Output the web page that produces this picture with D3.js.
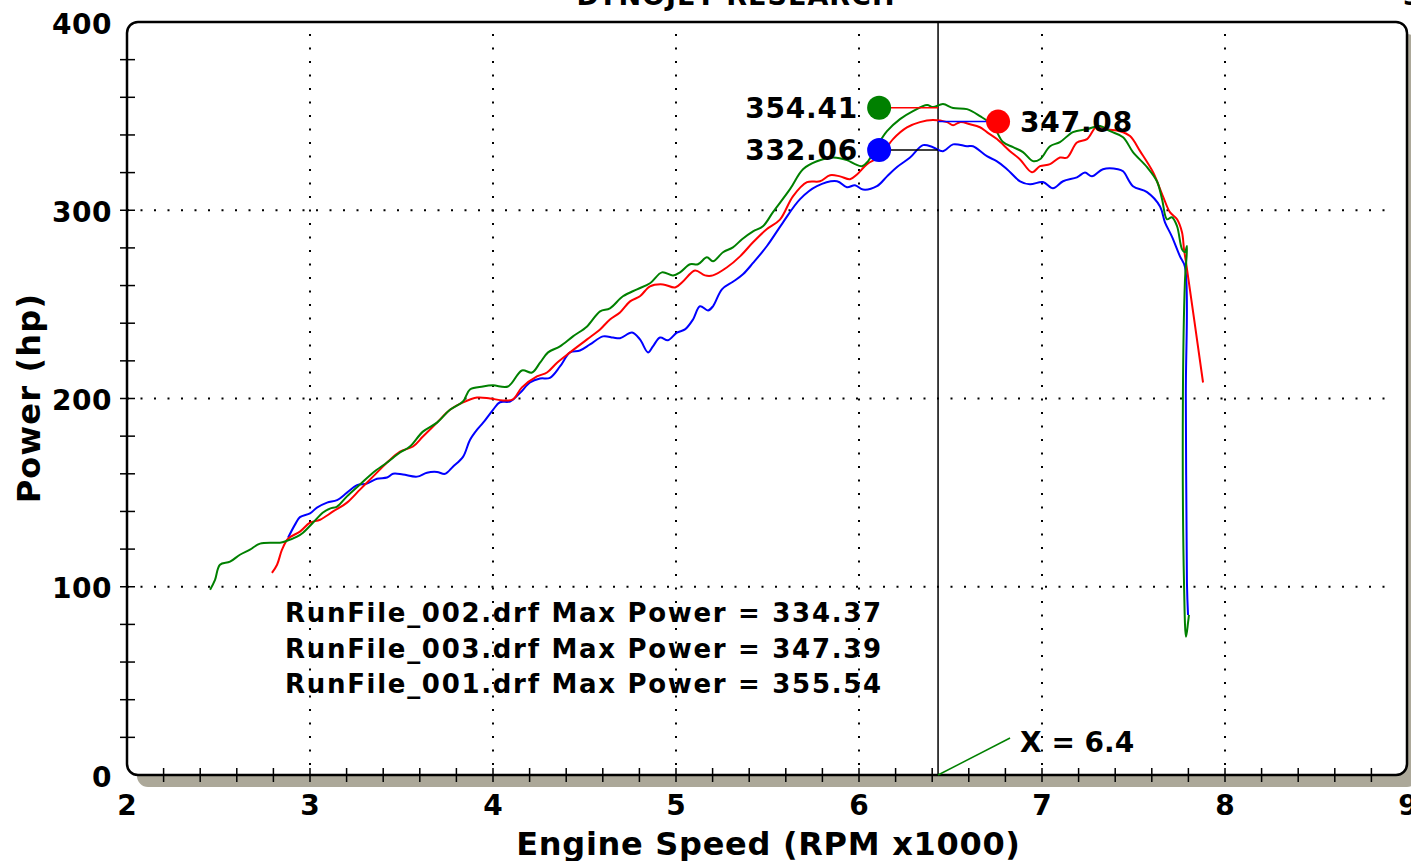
<!DOCTYPE html>
<meta charset="utf-8">
<style>
body { margin: 0; background: #fff; }
svg { display: block; }
text { font-family: "DejaVu Sans", Verdana, sans-serif; font-weight: bold; fill: #000; }
.grid line { stroke: #000; stroke-width: 2; stroke-dasharray: 2,11.5; }
.tick-mark { stroke: #000; stroke-width: 1.5; }
.run { fill: none; stroke-width: 2; }
</style>
<body>
<div id="dyno"></div>
<script src="https://d3js.org/d3.v7.min.js"></script>
<script>
// runs: rpm (x1000) and power (hp)
var run001Rpm = [2.454,2.481,2.508,2.563,2.617,2.672,2.727,2.836,2.863,2.929,2.962,3.016,3.071,3.109,3.148,3.202,3.273,3.344,3.421,3.492,3.546,3.617,3.694,3.765,3.836,3.874,3.945,4.000,4.082,4.158,4.213,4.257,4.301,4.366,4.437,4.514,4.585,4.639,4.710,4.787,4.858,4.923,4.984,5.022,5.077,5.120,5.169,5.202,5.257,5.311,5.361,5.421,5.475,5.530,5.623,5.694,5.770,5.858,5.934,5.978,6.016,6.049,6.098,6.153,6.224,6.295,6.372,6.404,6.459,6.514,6.590,6.661,6.732,6.787,6.842,6.896,6.951,6.989,7.044,7.098,7.169,7.246,7.317,7.372,7.443,7.497,7.574,7.628,7.656,7.683,7.710,7.738,7.765,7.781,7.792,7.781,7.770,7.776,7.787,7.798,7.803];
var run001Hp = [98.4,103.7,111.7,113.3,117,119.7,122.9,123.4,124,126.6,128.7,134,139.4,141.5,142.6,148,154.3,160.6,166,171.3,174.5,182.4,187.2,194,198.4,204.8,206.4,207,206.4,214.9,213.8,219,224.5,227.7,233,238.3,246.3,247.9,254.3,258,261.2,267,265.4,267,271.3,271.3,275,272.9,277.7,280.3,284.6,288.8,291.5,299,311.2,321.8,326,328,326.6,324.5,323.4,326,334,342,348.4,352.7,355.9,354.8,356.4,354.3,353.7,350,345,336.2,333.5,330.9,326.1,327.1,334,336.2,341.5,343.1,344.7,342,338.8,330.9,322.9,315.4,305.9,295.2,296.3,291.5,279.3,277.7,281,262,200.5,102.1,73.4,80.9,85.1];

var run002Rpm = [2.880,2.918,2.945,3.000,3.038,3.093,3.148,3.202,3.257,3.311,3.366,3.421,3.454,3.508,3.585,3.639,3.694,3.738,3.781,3.836,3.874,3.913,3.945,4.000,4.038,4.093,4.148,4.202,4.257,4.311,4.366,4.421,4.475,4.530,4.601,4.656,4.694,4.760,4.803,4.847,4.874,4.913,4.956,5.005,5.049,5.093,5.131,5.175,5.202,5.251,5.311,5.366,5.421,5.497,5.585,5.678,5.770,5.880,5.934,5.978,6.022,6.098,6.153,6.208,6.279,6.350,6.404,6.459,6.514,6.590,6.623,6.699,6.754,6.809,6.880,6.934,7.005,7.060,7.115,7.191,7.235,7.273,7.333,7.415,7.443,7.497,7.574,7.645,7.672,7.710,7.754,7.781,7.786,7.792,7.798];
var run002Hp = [126,133,137,139,142,144.7,146,150,154,154.8,157.4,158,160,159.6,158.5,160.6,161,160,163.8,169,178,183.5,187,194,198,198.4,203,208.5,210.6,211,217,224.5,225.5,228.7,233,232.4,232,235,231.4,224.5,227.7,232.4,231,235,236.7,242,249,246.8,249,258,262,266,272,281,293.6,305.9,312.8,315.4,312.2,313.3,311,312.8,318,323,328,334.6,333.5,331.4,335,334,334,328.7,326,321.8,315.4,313.8,315,311.7,315.4,317.5,320,318,321.8,321.8,320.7,312.8,309.6,302,293.6,286,275.5,270,200,102,85];

var run003Rpm = [2.792,2.820,2.847,2.880,2.945,3.000,3.055,3.126,3.202,3.273,3.344,3.421,3.492,3.563,3.617,3.694,3.765,3.836,3.913,3.984,4.055,4.109,4.158,4.240,4.295,4.350,4.421,4.514,4.585,4.639,4.694,4.749,4.803,4.858,4.929,4.995,5.038,5.104,5.158,5.202,5.279,5.350,5.421,5.497,5.568,5.639,5.716,5.787,5.842,5.896,5.951,5.989,6.044,6.115,6.186,6.262,6.333,6.404,6.481,6.514,6.552,6.607,6.661,6.699,6.754,6.825,6.880,6.945,6.989,7.044,7.098,7.137,7.191,7.246,7.301,7.355,7.426,7.481,7.536,7.607,7.661,7.699,7.738,7.765,7.776,7.787,7.880];
var run003Hp = [107.4,111.7,119.7,125.5,129.3,134,135.6,140,144.7,151.6,158.5,166,171.8,174.5,179.8,187.2,194,197.9,200.5,200,199,199.5,205.9,211.7,213.8,219,224.5,231.4,236.7,242,245.7,251.6,254.3,259.6,260.6,259,262.2,268,265.4,265.4,269.7,275.5,283,290,295,307.4,314.9,315.4,318.6,318,316.5,319,324.5,328.7,337.8,344,346.8,347.9,346.8,345.2,346.8,345.7,344.1,341.5,337.8,331.4,327,320.2,323.4,324.5,328,328,336,337.8,344.7,343,342,339.4,331.4,320.2,307.4,299,295.2,288.3,279.3,272.3,208.5];

var xTickLabels = ["2","3","4","5","6","7","8","9"];
var yTickLabels = ["0","100","200","300","400"];
var summaryLines = ["RunFile_002.drf Max Power = 334.37", "RunFile_003.drf Max Power = 347.39", "RunFile_001.drf Max Power = 355.54"];
var cursorRpm = 6.432;
var cursorValues = [354.41, 347.08, 332.06];

var width = 1411, height = 861,
    plot = {left: 127, right: 1408, top: 22, bottom: 775};

var x = d3.scaleLinear().domain([2, 9]).range([plot.left, plot.right]),
    y = d3.scaleLinear().domain([0, 400]).range([plot.bottom, plot.top]);

var svg = d3.select("#dyno").append("svg")
    .attr("width", width)
    .attr("height", height);

// frame shadow + frame
svg.append("rect")
    .attr("x", plot.left + 10).attr("y", plot.top + 12)
    .attr("width", plot.right - plot.left).attr("height", plot.bottom - plot.top)
    .attr("rx", 11)
    .style("fill", "#aca899");
svg.append("rect")
    .attr("x", plot.left).attr("y", plot.top)
    .attr("width", plot.right - plot.left - 1).attr("height", plot.bottom - plot.top)
    .attr("rx", 11)
    .style("fill", "#fff")
    .style("stroke", "#000")
    .style("stroke-width", 2.5);

// dotted grid
var grid = svg.append("g").attr("class", "grid");
grid.selectAll(".gx").data([3, 4, 5, 6, 7, 8]).enter().append("line")
    .attr("x1", function(d) { return x(d); }).attr("x2", function(d) { return x(d); })
    .attr("y1", plot.top + 12).attr("y2", plot.bottom);
grid.selectAll(".gy").data([100, 200, 300]).enter().append("line")
    .attr("y1", function(d) { return y(d); }).attr("y2", function(d) { return y(d); })
    .attr("x1", plot.left).attr("x2", plot.right - 20);

// ticks crossing the frame
svg.selectAll(".ytick").data(d3.range(20, 400, 20)).enter().append("line")
    .attr("class", "tick-mark")
    .attr("x1", plot.left - 7).attr("x2", plot.left + 8)
    .attr("y1", function(d) { return y(d); }).attr("y2", function(d) { return y(d); });
svg.selectAll(".xtick").data(d3.range(2.2, 8.9, 0.2)).enter().append("line")
    .attr("class", "tick-mark")
    .attr("y1", plot.bottom - 7).attr("y2", plot.bottom + 7)
    .attr("x1", function(d) { return x(d); }).attr("x2", function(d) { return x(d); });

// tick labels
svg.selectAll(".ylab").data(yTickLabels).enter().append("text")
    .attr("x", plot.left - 15)
    .attr("y", function(d) { return y(+d) + 11.5; })
    .style("font-size", "28px")
    .style("letter-spacing", "0.5px")
    .style("text-anchor", "end")
    .text(function(d) { return d; });
svg.selectAll(".xlab").data(xTickLabels).enter().append("text")
    .attr("x", function(d) { return x(+d); })
    .attr("y", 815)
    .style("font-size", "28px")
    .style("text-anchor", "middle")
    .text(function(d) { return d; });

// axis titles
svg.append("text")
    .attr("x", (plot.left + plot.right) / 2 + 1).attr("y", 855)
    .style("font-size", "32px")
    .style("letter-spacing", "0.7px")
    .style("text-anchor", "middle")
    .text("Engine Speed (RPM x1000)");
svg.append("text")
    .attr("transform", "translate(40,398) rotate(-90)")
    .style("font-size", "32px")
    .style("letter-spacing", "1.2px")
    .style("text-anchor", "middle")
    .text("Power (hp)");

// header, cut at top edge
svg.append("text")
    .attr("x", 736).attr("y", 5)
    .style("font-size", "27px")
    .style("letter-spacing", "1px")
    .style("text-anchor", "middle")
    .text("DYNOJET RESEARCH");
svg.append("text")
    .attr("x", 1403).attr("y", 5)
    .style("font-size", "27px")
    .text("3");

// cursor
svg.append("line")
    .attr("x1", x(cursorRpm)).attr("x2", x(cursorRpm))
    .attr("y1", plot.top).attr("y2", plot.bottom)
    .style("stroke", "#000").style("stroke-width", 1.5);

// runs
var line = d3.line()
    .x(function(d) { return x(d[0]); })
    .y(function(d) { return y(d[1]); })
    .curve(d3.curveCatmullRom.alpha(0.5));

var runs = [
    {rpm: run002Rpm, hp: run002Hp, color: "#0000ff"},
    {rpm: run003Rpm, hp: run003Hp, color: "#ff0000"},
    {rpm: run001Rpm, hp: run001Hp, color: "#008000"}
];
runs.forEach(function(r) {
    svg.append("path")
        .datum(r.rpm.map(function(v, i) { return [v, r.hp[i]]; }))
        .attr("class", "run")
        .style("stroke", r.color)
        .attr("d", line);
});

// cursor read-outs
var markers = [
    {rpm: 6.11, hp: cursorValues[0], color: "#008000", link: "#ff0000", side: "left"},
    {rpm: 6.76, hp: cursorValues[1], color: "#ff0000", link: "#0000ff", side: "right"},
    {rpm: 6.11, hp: cursorValues[2], color: "#0000ff", link: "#000000", side: "left"}
];
markers.forEach(function(m) {
    svg.append("line")
        .attr("x1", x(m.rpm)).attr("x2", x(cursorRpm))
        .attr("y1", y(m.hp)).attr("y2", y(m.hp))
        .style("stroke", m.link).style("stroke-width", 1.5);
    svg.append("circle")
        .attr("cx", x(m.rpm)).attr("cy", y(m.hp)).attr("r", 12)
        .style("fill", m.color);
    svg.append("text")
        .attr("x", m.side == "left" ? x(m.rpm) - 21 : x(m.rpm) + 22)
        .attr("y", y(m.hp) + 10)
        .style("font-size", "28px")
        .style("letter-spacing", "0.8px")
        .style("text-anchor", m.side == "left" ? "end" : "start")
        .text(m.hp.toFixed(2));
});

svg.append("line")
    .attr("x1", x(cursorRpm)).attr("y1", plot.bottom)
    .attr("x2", x(cursorRpm) + 72).attr("y2", plot.bottom - 37)
    .style("stroke", "#008000").style("stroke-width", 1.5);
svg.append("text")
    .attr("x", x(cursorRpm) + 82).attr("y", 752)
    .style("font-size", "28px")
    .text("X = " + d3.format(".1f")(cursorRpm));

// run summary
svg.selectAll(".summary").data(summaryLines).enter().append("text")
    .attr("x", 285)
    .attr("y", function(d, i) { return 622 + i * 35.5; })
    .style("font-size", "26px")
    .style("letter-spacing", "1.7px")
    .text(function(d) { return d; });
</script>
